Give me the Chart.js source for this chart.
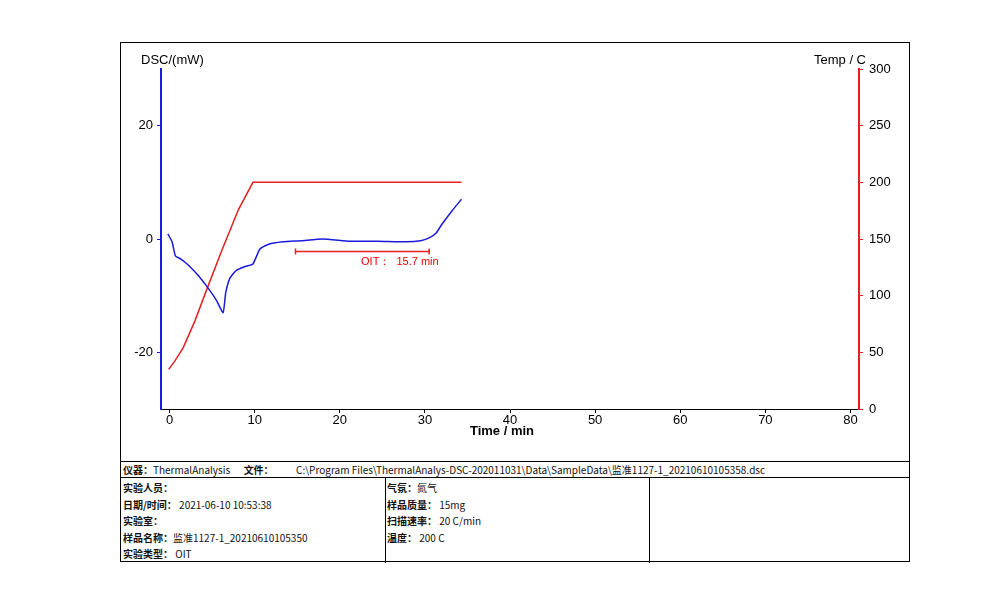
<!DOCTYPE html>
<html><head><meta charset="utf-8">
<script src="https://cdn.jsdelivr.net/npm/chart.js@4"></script>
<style>
body{margin:0;background:#fff;font-family:"Liberation Sans",Arial,sans-serif;}
#frame{position:absolute;left:120px;top:42px;width:790px;height:520px;border:1px solid #000;box-sizing:border-box;}
#cw{position:absolute;left:0;top:0;width:788px;height:418px;}
#info{position:absolute;left:0;top:418px;width:788px;height:101px;border-top:1px solid #000;font-family:"Noto Sans CJK SC",sans-serif;font-size:10px;color:#111;}
.r1{height:15px;border-bottom:1px solid #000;line-height:15px;padding-left:2px;white-space:nowrap;}
.c{position:absolute;top:16px;bottom:0;line-height:16.5px;padding-left:2px;padding-top:2px;}
b{font-weight:bold}
</style></head><body>
<div id="frame">
<div id="cw"><canvas id="c"></canvas></div>
<div id="info">
<div class="r1"><b>仪器：</b>ThermalAnalysis &nbsp;&nbsp;&nbsp;&nbsp;&nbsp;<b>文件：</b>&nbsp;&nbsp;&nbsp;&nbsp;&nbsp;&nbsp;&nbsp;&nbsp;&nbsp;&nbsp;C:\Program Files\ThermalAnalys-DSC-202011031\Data\SampleData\监准1127-1_20210610105358.dsc</div>
<div class="c" style="left:0;width:262px;border-right:1px solid #000"><b>实验人员：</b><br><b>日期/时间：</b> 2021-06-10 10:53:38<br><b>实验室：</b><br><b>样品名称：</b>监准1127-1_20210610105350<br><b>实验类型：</b> OIT</div>
<div class="c" style="left:264px;width:262px;border-right:1px solid #000"><b>气氛：</b>氮气<br><b>样品质量：</b> 15mg<br><b>扫描速率：</b> 20 C/min<br><b>温度：</b> 200 C</div>
</div>
</div>
<script>
const dscTime=[-0.2,0.3,0.7,1.3,2.2,3.4,4.6,5.5,6.3,6.6,7.1,7.8,8.8,9.8,10.6,11.5,13.3,15.5,18,21.2,24.5,27.8,29.5,30.5,31.3,32,33.2,34.3];
const dscVal=[0.9,-0.5,-3,-3.5,-4.6,-6.5,-8.8,-10.8,-13,-9.5,-6.9,-5.6,-4.9,-4.4,-1.8,-1.0,-0.5,-0.3,0,-0.4,-0.4,-0.5,-0.3,0.2,1.0,2.6,5.0,7];
const tempTime=[-0.1,0.6,1.6,3.0,4.4,6.2,8.1,9.8,34.3];
const tempVal=[35,42,54,78,106,141,176,200,200];
const oitTime=[14.8,30.5];
const oitVal=[-2.2,-2.2];
const oitLabel="OIT：  15.7 min";
const toXY=(xs,ys)=>xs.map((x,i)=>({x,y:ys[i]}));
const fnt={family:"'Liberation Sans',Arial",size:13};
const labels={id:'lab',afterDraw(ch){const c=ch.ctx,x=ch.scales.x,y=ch.scales.y;c.save();
c.font="13px 'Liberation Sans',Arial";c.fillStyle='#000';c.textBaseline='middle';
c.textAlign='left';c.fillText('DSC/(mW)',20,17);c.textAlign='right';c.fillText('Temp / C',745,17);
c.font="bold 13px 'Liberation Sans',Arial";c.textAlign='center';c.fillText('Time / min',381,388);
c.font="11px 'Liberation Sans',Arial";c.fillStyle='#e00';c.textAlign='left';c.fillText(oitLabel,x.getPixelForValue(22.5),y.getPixelForValue(-4.1));c.restore();}};
new Chart(document.getElementById('c'),{type:'scatter',
data:{datasets:[
{data:toXY(dscTime,dscVal),yAxisID:'y',showLine:true,borderColor:'#1a1adc',borderWidth:1.5,pointRadius:0,tension:0.15},
{data:toXY(tempTime,tempVal),yAxisID:'y2',showLine:true,borderColor:'#e52020',borderWidth:1.5,pointRadius:0},
{data:toXY(oitTime,oitVal),yAxisID:'y',showLine:true,borderColor:'#e52020',borderWidth:1.5,pointStyle:'line',rotation:90,pointRadius:3,pointBorderColor:'#e52020',pointBorderWidth:1.5}
]},
options:{responsive:true,maintainAspectRatio:false,animation:false,
layout:{padding:{top:26,right:0,left:0,bottom:0}},
plugins:{legend:{display:false},tooltip:{enabled:false}},
scales:{
x:{type:'linear',min:-1,max:81,afterBuildTicks:a=>{a.ticks=[0,10,20,30,40,50,60,70,80].map(v=>({value:v}))},
 afterFit:s=>{s.height=52},
 grid:{drawOnChartArea:false,tickLength:4,color:'#000'},border:{color:'#000'},
 ticks:{color:'#000',font:fnt,padding:0,maxRotation:0}},
y:{position:'left',min:-30,max:30,afterBuildTicks:a=>{a.ticks=[-20,0,20].map(v=>({value:v}))},
 afterFit:s=>{s.width=40},
 grid:{drawOnChartArea:false,tickLength:4,color:'#1a1adc'},border:{color:'#1a1adc',width:2},
 ticks:{color:'#000',font:fnt,padding:4}},
y2:{position:'right',min:0,max:300,afterBuildTicks:a=>{a.ticks=[0,50,100,150,200,250,300].map(v=>({value:v}))},
 afterFit:s=>{s.width=50},
 grid:{drawOnChartArea:false,tickLength:4,color:'#e52020'},border:{color:'#e52020',width:2},
 ticks:{color:'#000',font:fnt,padding:6}}
}},plugins:[labels]});
</script></body></html>
